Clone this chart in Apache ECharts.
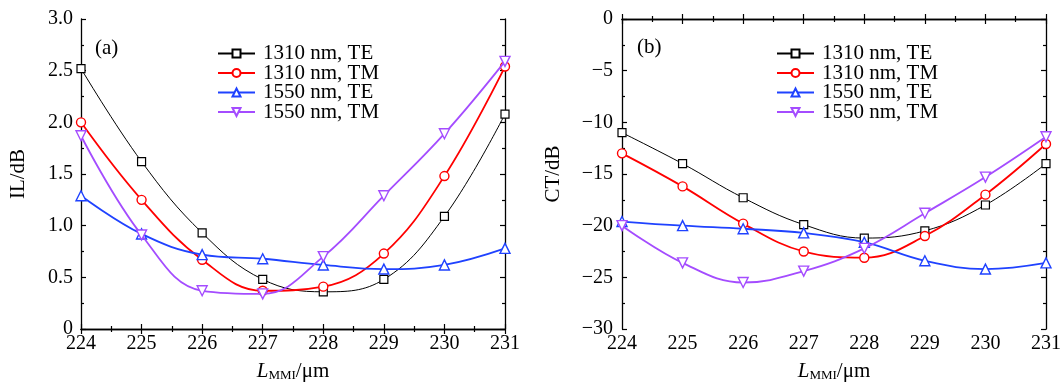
<!DOCTYPE html>
<html>
<head>
<meta charset="utf-8">
<script src="https://cdn.jsdelivr.net/npm/echarts@6/dist/echarts.min.js"></script>
<style>
  html, body { margin: 0; padding: 0; background: #fff; }
  #main { width: 1064px; height: 383px; }
</style>
</head>
<body>
<div id="main"></div>
<script>
// lengths of the MMI section (µm)
const lengths = [224, 225, 226, 227, 228, 229, 230, 231]
const seriesNames = ['1310 nm, TE', '1310 nm, TM', '1550 nm, TE', '1550 nm, TM']

// (a) insertion loss, dB
const il1310TE = [2.52, 1.62, 0.93, 0.48, 0.36, 0.48, 1.09, 2.08]
const il1310TM = [2.00, 1.25, 0.67, 0.37, 0.41, 0.73, 1.48, 2.54]
const il1550TE = [1.29, 0.92, 0.72, 0.68, 0.62, 0.58, 0.62, 0.78]
const il1550TM = [1.87, 0.91, 0.37, 0.34, 0.70, 1.29, 1.89, 2.59]

// (b) crosstalk, dB
const ct1310TE = [-11.0, -14.0, -17.3, -19.9, -21.2, -20.5, -18.0, -14.0]
const ct1310TM = [-13.0, -16.2, -19.8, -22.5, -23.1, -21.0, -17.0, -12.1]
const ct1550TE = [-19.6, -20.0, -20.3, -20.7, -21.6, -23.4, -24.2, -23.6]
const ct1550TM = [-20.0, -23.6, -25.5, -24.4, -22.2, -18.8, -15.3, -11.4]

const FONT = 'Liberation Serif'
const styles = [
  { color: '#000000', width: 1, symbol: 'rect', size: 8, rotate: 0, border: 1.2 },
  { color: '#ff0000', width: 1.8, symbol: 'circle', size: 9, rotate: 0, border: 1.4 },
  { color: '#1f42ff', width: 1.8, symbol: 'triangle', size: 10, rotate: 0, border: 1.4 },
  { color: '#a44cff', width: 1.8, symbol: 'triangle', size: 10, rotate: 180, border: 1.4 }
]

const pairs = (vals) => lengths.map((x, i) => [x, vals[i]])

const makeSeries = (gridIdx, sets) => sets.map((vals, i) => {
  const s = styles[i]
  return {
    name: seriesNames[i],
    type: 'line',
    xAxisIndex: gridIdx * 2,
    yAxisIndex: gridIdx * 2,
    data: pairs(vals),
    smooth: 0.4,
    symbol: s.symbol,
    symbolSize: s.size,
    symbolRotate: s.rotate,
    showAllSymbol: true,
    lineStyle: { color: s.color, width: s.width },
    itemStyle: { color: '#ffffff', borderColor: s.color, borderWidth: s.border },
    emphasis: { disabled: true },
    z: 2 + i
  }
})

const tickFont = { fontFamily: FONT, fontSize: 20, color: '#000' }
const axisLine = { show: true, lineStyle: { color: '#000', width: 1.3 } }
const tick = { inside: true, length: 5, lineStyle: { color: '#000', width: 1.2 } }
const minor = { show: true, splitNumber: 2, length: 3, lineStyle: { color: '#000', width: 1.2 } }

const xAxisPair = (gridIndex) => [
  {
    gridIndex,
    type: 'value',
    min: 224, max: 231, interval: 1,
    position: 'bottom',
    axisLine, axisTick: tick, minorTick: minor,
    splitLine: { show: false },
    axisLabel: { ...tickFont, margin: 5 },
    name: '{i|L}{s|MMI}/μm',
    nameLocation: 'middle',
    nameGap: 32,
    nameTextStyle: {
      fontFamily: FONT, fontSize: 21, color: '#000',
      rich: {
        i: { fontFamily: FONT, fontSize: 21, fontStyle: 'italic', color: '#000' },
        s: { fontFamily: FONT, fontSize: 13, color: '#000', padding: [8, 0, 0, 0] }
      }
    }
  },
  {
    gridIndex,
    type: 'value',
    min: 224, max: 231, interval: 1,
    position: 'top',
    axisLine, axisTick: tick, minorTick: minor,
    splitLine: { show: false },
    axisLabel: { show: false }
  }
]

const yAxisPair = (gridIndex, min, max, interval, name, nameGap, fmt, margin) => [
  {
    gridIndex,
    type: 'value',
    min, max, interval,
    position: 'left',
    axisLine, axisTick: tick, minorTick: minor,
    splitLine: { show: false },
    axisLabel: { ...tickFont, margin, formatter: fmt },
    name,
    nameLocation: 'middle',
    nameGap,
    nameRotate: 90,
    nameTextStyle: { fontFamily: FONT, fontSize: 21, color: '#000' }
  },
  {
    gridIndex,
    type: 'value',
    min, max, interval,
    position: 'right',
    axisLine, axisTick: tick, minorTick: minor,
    splitLine: { show: false },
    axisLabel: { show: false }
  }
]

const legendFor = (left) => ({
  data: seriesNames,
  orient: 'vertical',
  left, top: 43,
  padding: 0,
  itemWidth: 37,
  itemHeight: 10,
  itemGap: -1.5,
  selectedMode: false,
  textStyle: { fontFamily: FONT, fontSize: 21, color: '#000', padding: [0, 0, 0, 3] }
})

const option = {
  animation: false,
  backgroundColor: '#fff',
  grid: [
    { left: 81, top: 19, width: 424, height: 310, outerBoundsMode: 'none' },
    { left: 622, top: 19, width: 424, height: 310, outerBoundsMode: 'none' }
  ],
  xAxis: [...xAxisPair(0), ...xAxisPair(1)],
  yAxis: [
    ...yAxisPair(0, 0, 3, 0.5, 'IL/dB', 52, v => (v === 0 ? '0' : v.toFixed(1)), 8),
    ...yAxisPair(1, -30, 0, 5, 'CT/dB', 58, v => (v < 0 ? '\u2212' + Math.abs(v) : String(v)), 9)
  ],
  legend: [legendFor(217), legendFor(776)],
  graphic: [
    { type: 'text', left: 95, top: 38, style: { text: '(a)', fontFamily: FONT, fontSize: 21, fill: '#000' } },
    { type: 'text', left: 637, top: 37, style: { text: '(b)', fontFamily: FONT, fontSize: 21, fill: '#000' } }
  ],
  series: [
    ...makeSeries(0, [il1310TE, il1310TM, il1550TE, il1550TM]),
    ...makeSeries(1, [ct1310TE, ct1310TM, ct1550TE, ct1550TM])
  ]
}

const chart = echarts.init(document.getElementById('main'), null, { renderer: 'canvas' })
chart.setOption(option)
</script>
</body>
</html>
